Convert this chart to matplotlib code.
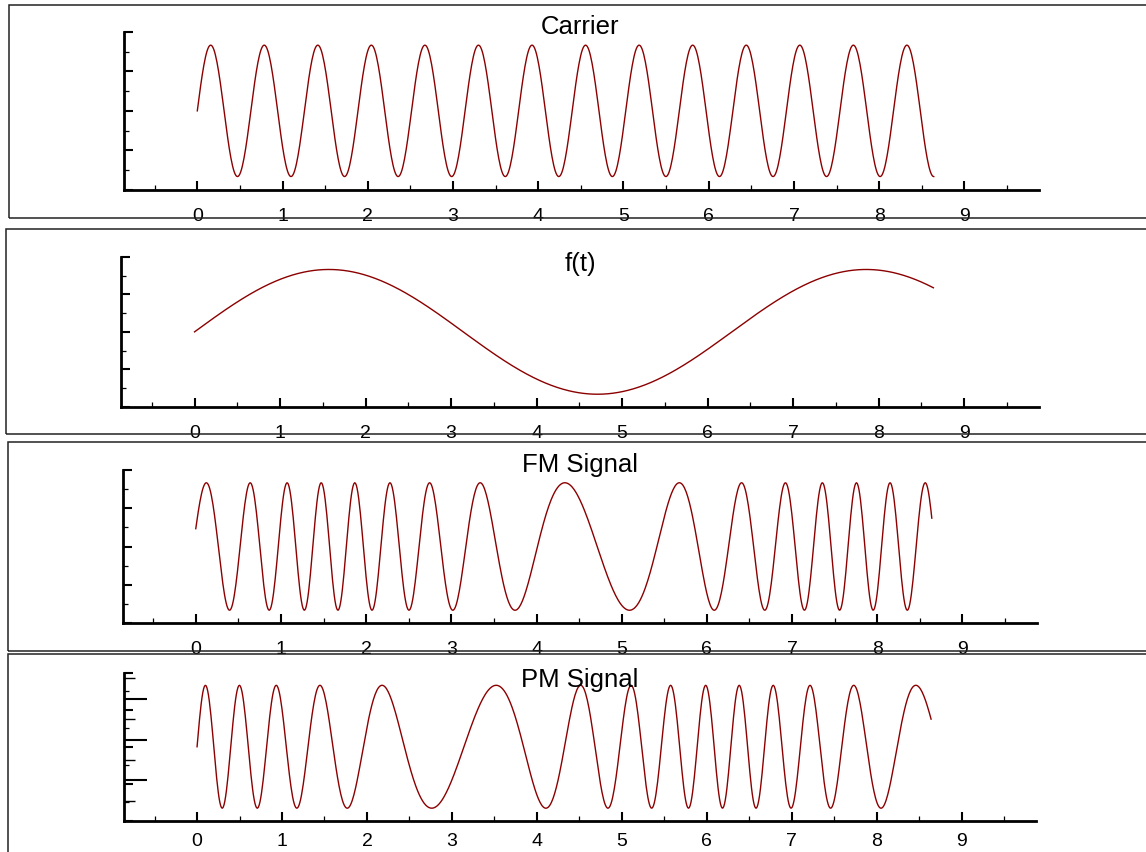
import numpy as np
import matplotlib
matplotlib.use("Agg")
import matplotlib.pyplot as plt
from matplotlib.patches import Rectangle
from matplotlib.ticker import MultipleLocator

plt.rcParams["font.family"] = ["Liberation Sans", "DejaVu Sans"]

# signal parameters
T_END = 8.64          # time axis runs 0 .. ~2.75*pi
CARRIER_W = 10.0      # carrier angular frequency (period ~0.63)
MESSAGE_W = 1.0       # f(t) = sin(t)
FM_INDEX = 6.0        # FM: sin(10t - 6 cos t)
PM_INDEX = 6.0        # PM: sin(10t + 6 sin t)
N_SAMPLES = 900

TITLES = ["Carrier", "f(t)", "FM Signal", "PM Signal"]
X_TICKS = [0, 1, 2, 3, 4, 5, 6, 7, 8, 9]
X_LABELS = ["0", "1", "2", "3", "4", "5", "6", "7", "8", "9"]

W, H = 1146, 853
LINE_COLOR = "#8b0000"
XLIM = (-0.86, 9.875)
YLIM = (-1.2, 1.2)

# pixel layout: (left, top, right, bottom)
AXES_PX = [
    (124, 33, 1039, 190.7),
    (121, 258, 1039, 407.7),
    (122.5, 471, 1037, 624),
    (124, 674, 1036, 821.5),
]
BOX_PX = [
    (9, 5.7, 1160, 219),
    (6, 230, 1160, 435),
    (8, 443, 1160, 652),
    (8, 655, 1160, 870),
]
TITLE_BASELINE_PX = [34, 271, 472, 687]
TITLE_X_PX = 580
LABEL_PAD = [12.2, 12.2, 12.2, 8.0]  # last panel sits on the figure edge


def px_rect(left, top, right, bottom):
    return [left / W, 1 - bottom / H, (right - left) / W, (bottom - top) / H]


def style_axes(ax, pad):
    ax.set_xlim(*XLIM)
    ax.set_ylim(*YLIM)
    for side in ("top", "right"):
        ax.spines[side].set_visible(False)
    for side in ("left", "bottom"):
        ax.spines[side].set_linewidth(2.0)
    ax.set_xticks(X_TICKS)
    ax.set_xticklabels(X_LABELS)
    ax.xaxis.set_minor_locator(MultipleLocator(0.5))
    ax.yaxis.set_major_locator(MultipleLocator(0.6))
    ax.yaxis.set_minor_locator(MultipleLocator(0.3))
    ax.tick_params(which="major", direction="in", length=6.5, width=1.5)
    ax.tick_params(which="minor", direction="in", length=3.3, width=0.9)
    ax.tick_params(axis="x", which="major", labelsize=14, pad=pad)
    ax.tick_params(axis="y", labelleft=False)
    ax.patch.set_visible(False)


def main():
    t = np.linspace(0, T_END, N_SAMPLES)
    message = np.sin(MESSAGE_W * t)
    carrier = np.sin(CARRIER_W * t)
    fm = np.sin(CARRIER_W * t - FM_INDEX * np.cos(MESSAGE_W * t))
    pm = np.sin(CARRIER_W * t + PM_INDEX * np.sin(MESSAGE_W * t))
    series = [carrier, message, fm, pm]

    fig = plt.figure(figsize=(W / 100, H / 100), dpi=100)

    for box in BOX_PX:
        l, tp, r, b = box
        fig.patches.append(Rectangle((l / W, 1 - b / H), (r - l) / W, (b - tp) / H,
                                     transform=fig.transFigure, fill=False,
                                     edgecolor="#222222", linewidth=1.1))

    for i, y in enumerate(series):
        ax = fig.add_axes(px_rect(*AXES_PX[i]))
        style_axes(ax, LABEL_PAD[i])
        ax.plot(t, y, color=LINE_COLOR, linewidth=1.0)
        fig.text(TITLE_X_PX / W, 1 - TITLE_BASELINE_PX[i] / H, TITLES[i],
                 ha="center", va="baseline", fontsize=18.5)

        if i == 3:
            # second, overlapping set of left ticks on the PM panel
            ax_b = ax.twinx()
            ax_b.set_position(px_rect(*AXES_PX[i]))
            ax_b.set_ylim(0.02, 3.63)
            ax_b.yaxis.tick_left()
            ax_b.yaxis.set_major_locator(MultipleLocator(1.0))
            ax_b.yaxis.set_minor_locator(MultipleLocator(0.5))
            ax_b.tick_params(which="major", direction="in", length=16.5, width=1.5,
                             labelleft=False, labelright=False)
            ax_b.tick_params(which="minor", direction="in", length=8, width=1.0)
            for sp in ax_b.spines.values():
                sp.set_visible(False)

    fig.savefig("out.png", dpi=100)


if __name__ == "__main__":
    main()
